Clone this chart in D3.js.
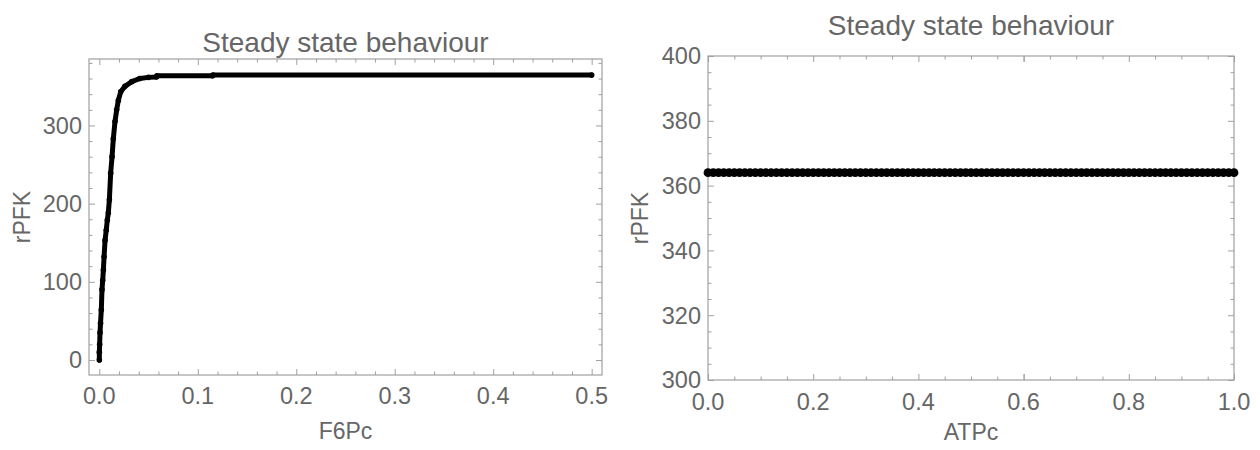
<!DOCTYPE html>
<html>
<head>
<meta charset="utf-8">
<script src="https://cdn.jsdelivr.net/npm/d3@7"></script>
<style>
  html, body { margin: 0; padding: 0; background: #fff; }
  svg { display: block; }
  text { font-family: "Liberation Sans", Arial, sans-serif; fill: #666; }
</style>
</head>
<body>
<svg id="chart" width="1260" height="450"></svg>
<script>
// ---- Data ----
const leftTitle = "Steady state behaviour";
const rightTitle = "Steady state behaviour";

// Left panel: rPFK vs F6Pc
const f6pc = [0.0000, 0.0000, 0.0003, 0.0007, 0.0012, 0.0020, 0.0027, 0.0034, 0.0041, 0.0048,
              0.0058, 0.0070, 0.0081, 0.0091, 0.0102, 0.0115, 0.0129, 0.0142, 0.0159, 0.0176,
              0.0193, 0.0217, 0.0260, 0.0330, 0.0410, 0.0500, 0.0580, 0.0585, 0.1150, 0.1155, 0.5000];
const rpfkLeft = [0, 10, 20, 35, 47, 64, 90, 102, 115, 132,
                  153, 166, 179, 188, 205, 239, 260, 283, 305, 320,
                  332, 343, 350, 356, 360, 361.5, 362, 363.5, 363.5, 364.4, 364.4];
const leftXTicks = [0, 0.1, 0.2, 0.3, 0.4, 0.5];
const leftXTickLabels = ["0.0", "0.1", "0.2", "0.3", "0.4", "0.5"];
const leftYTicks = [0, 100, 200, 300];
const leftYTickLabels = ["0", "100", "200", "300"];

// Right panel: rPFK vs ATPc (constant steady state)
const atpc = [0,0.01,0.02,0.03,0.04,0.05,0.06,0.07,0.08,0.09,0.1,0.11,0.12,0.13,0.14,0.15,0.16,0.17,0.18,0.19,
              0.2,0.21,0.22,0.23,0.24,0.25,0.26,0.27,0.28,0.29,0.3,0.31,0.32,0.33,0.34,0.35,0.36,0.37,0.38,0.39,
              0.4,0.41,0.42,0.43,0.44,0.45,0.46,0.47,0.48,0.49,0.5,0.51,0.52,0.53,0.54,0.55,0.56,0.57,0.58,0.59,
              0.6,0.61,0.62,0.63,0.64,0.65,0.66,0.67,0.68,0.69,0.7,0.71,0.72,0.73,0.74,0.75,0.76,0.77,0.78,0.79,
              0.8,0.81,0.82,0.83,0.84,0.85,0.86,0.87,0.88,0.89,0.9,0.91,0.92,0.93,0.94,0.95,0.96,0.97,0.98,0.99,1];
const rpfkRight = [364,364,364,364,364,364,364,364,364,364,364,364,364,364,364,364,364,364,364,364,
                   364,364,364,364,364,364,364,364,364,364,364,364,364,364,364,364,364,364,364,364,
                   364,364,364,364,364,364,364,364,364,364,364,364,364,364,364,364,364,364,364,364,
                   364,364,364,364,364,364,364,364,364,364,364,364,364,364,364,364,364,364,364,364,
                   364,364,364,364,364,364,364,364,364,364,364,364,364,364,364,364,364,364,364,364,364];
const rightXTicks = [0, 0.2, 0.4, 0.6, 0.8, 1.0];
const rightXTickLabels = ["0.0", "0.2", "0.4", "0.6", "0.8", "1.0"];
const rightYTicks = [300, 320, 340, 360, 380, 400];
const rightYTickLabels = ["300", "320", "340", "360", "380", "400"];

// ---- Drawing ----
const svg = d3.select("#chart");
const frameColor = "#a0a0a0";
const textColor = "#666";
const tickFont = 23.5;
const labelFont = 23;
const titleFont = 28;

function panel(cfg) {
  const g = svg.append("g");
  const x = d3.scaleLinear().domain(cfg.xDomain).range([cfg.left, cfg.right]);
  const y = d3.scaleLinear().domain(cfg.yDomain).range([cfg.bottom, cfg.top]);
  const w = cfg.right - cfg.left, h = cfg.bottom - cfg.top;

  const xMinor = d3.range(cfg.xMinorStart, cfg.xDomain[1] + 1e-9, cfg.xMinorStep).filter(v => v >= cfg.xDomain[0] - 1e-9);
  const yMinor = d3.range(cfg.yMinorStart, cfg.yDomain[1] + 1e-9, cfg.yMinorStep).filter(v => v >= cfg.yDomain[0] - 1e-9);
  const isMajor = (v, majors) => majors.some(m => Math.abs(m - v) < 1e-6);

  function addAxis(axisFn, scale, majors, minors, transform) {
    const ax = axisFn(scale)
      .tickValues(minors)
      .tickSizeInner(-1)
      .tickSizeOuter(0)
      .tickFormat(() => "");
    const a = g.append("g").attr("transform", transform).call(ax);
    a.select(".domain").remove();
    a.selectAll(".tick line")
      .attr("stroke", frameColor)
      .each(function(d) {
        const len = isMajor(d, majors) ? 6 : 3.5;
        const el = d3.select(this);
        if (axisFn === d3.axisBottom) el.attr("y2", -len);
        if (axisFn === d3.axisTop) el.attr("y2", len);
        if (axisFn === d3.axisLeft) el.attr("x2", len);
        if (axisFn === d3.axisRight) el.attr("x2", -len);
      });
    a.selectAll(".tick text").remove();
    return a;
  }
  const xAll = Array.from(new Set([...xMinor, ...cfg.xTicks]));
  const yAll = Array.from(new Set([...yMinor, ...cfg.yTicks]));
  addAxis(d3.axisBottom, x, cfg.xTicks, xAll, `translate(0,${cfg.bottom})`);
  addAxis(d3.axisTop, x, cfg.xTicks, xAll, `translate(0,${cfg.top})`);
  addAxis(d3.axisLeft, y, cfg.yTicks, yAll, `translate(${cfg.left},0)`);
  addAxis(d3.axisRight, y, cfg.yTicks, yAll, `translate(${cfg.right},0)`);

  g.append("rect")
    .attr("x", cfg.left).attr("y", cfg.top).attr("width", w).attr("height", h)
    .attr("fill", "none").attr("stroke", frameColor).attr("stroke-width", 1.2);

  g.selectAll(".xl").data(cfg.xTicks).enter().append("text")
    .attr("x", d => x(d)).attr("y", cfg.bottom + cfg.xLabelOffset)
    .attr("text-anchor", "middle").attr("font-size", tickFont).style("fill", textColor)
    .text((d, i) => cfg.xTickLabels[i]);
  g.selectAll(".yl").data(cfg.yTicks).enter().append("text")
    .attr("x", cfg.left - 7).attr("y", d => y(d)).attr("dy", "0.36em")
    .attr("text-anchor", "end").attr("font-size", tickFont).style("fill", textColor)
    .text((d, i) => cfg.yTickLabels[i]);

  g.append("text").attr("x", (cfg.left + cfg.right) / 2).attr("y", cfg.xTitleY)
    .attr("text-anchor", "middle").attr("font-size", labelFont).style("fill", textColor).text(cfg.xTitle);
  g.append("text")
    .attr("transform", `translate(${cfg.yTitleX},${(cfg.top + cfg.bottom) / 2}) rotate(-90)`)
    .attr("text-anchor", "middle").attr("font-size", labelFont).style("fill", textColor).text(cfg.yTitle);

  g.append("text").attr("x", (cfg.left + cfg.right) / 2).attr("y", cfg.titleY)
    .attr("text-anchor", "middle").attr("font-size", titleFont).style("fill", textColor).text(cfg.title);

  return { g, x, y };
}

// Left panel
const L = panel({
  left: 89, right: 602, top: 59, bottom: 375,
  xDomain: [-0.0105, 0.5105], yDomain: [-19.2, 385],
  xTicks: leftXTicks, xTickLabels: leftXTickLabels, xMinorStart: 0, xMinorStep: 0.02,
  yTicks: leftYTicks, yTickLabels: leftYTickLabels, yMinorStart: 0, yMinorStep: 20,
  xLabelOffset: 28.5, xTitle: "F6Pc", xTitleY: 439, yTitle: "rPFK", yTitleX: 30,
  title: leftTitle, titleY: 52
});
const leftPts = f6pc.map((v, i) => [v, rpfkLeft[i]]);
L.g.append("path")
  .datum(leftPts)
  .attr("d", d3.line().x(d => L.x(d[0])).y(d => L.y(d[1])))
  .attr("fill", "none").attr("stroke", "#000").attr("stroke-width", 5)
  .attr("stroke-linejoin", "round").attr("stroke-linecap", "round");
L.g.selectAll(".lp").data(leftPts).enter().append("circle")
  .attr("cx", d => L.x(d[0])).attr("cy", d => L.y(d[1])).attr("r", 2.8).attr("fill", "#000");

// Right panel
const R = panel({
  left: 708, right: 1234, top: 56, bottom: 380,
  xDomain: [0, 1], yDomain: [300, 400],
  xTicks: rightXTicks, xTickLabels: rightXTickLabels, xMinorStart: 0, xMinorStep: 0.05,
  yTicks: rightYTicks, yTickLabels: rightYTickLabels, yMinorStart: 300, yMinorStep: 5,
  xLabelOffset: 29.5, xTitle: "ATPc", xTitleY: 440, yTitle: "rPFK", yTitleX: 648,
  title: rightTitle, titleY: 35
});
R.g.selectAll(".rp").data(atpc.map((v, i) => [v, rpfkRight[i]])).enter().append("circle")
  .attr("cx", d => R.x(d[0])).attr("cy", d => R.y(d[1])).attr("r", 4.4).attr("fill", "#000");
</script>
</body>
</html>
